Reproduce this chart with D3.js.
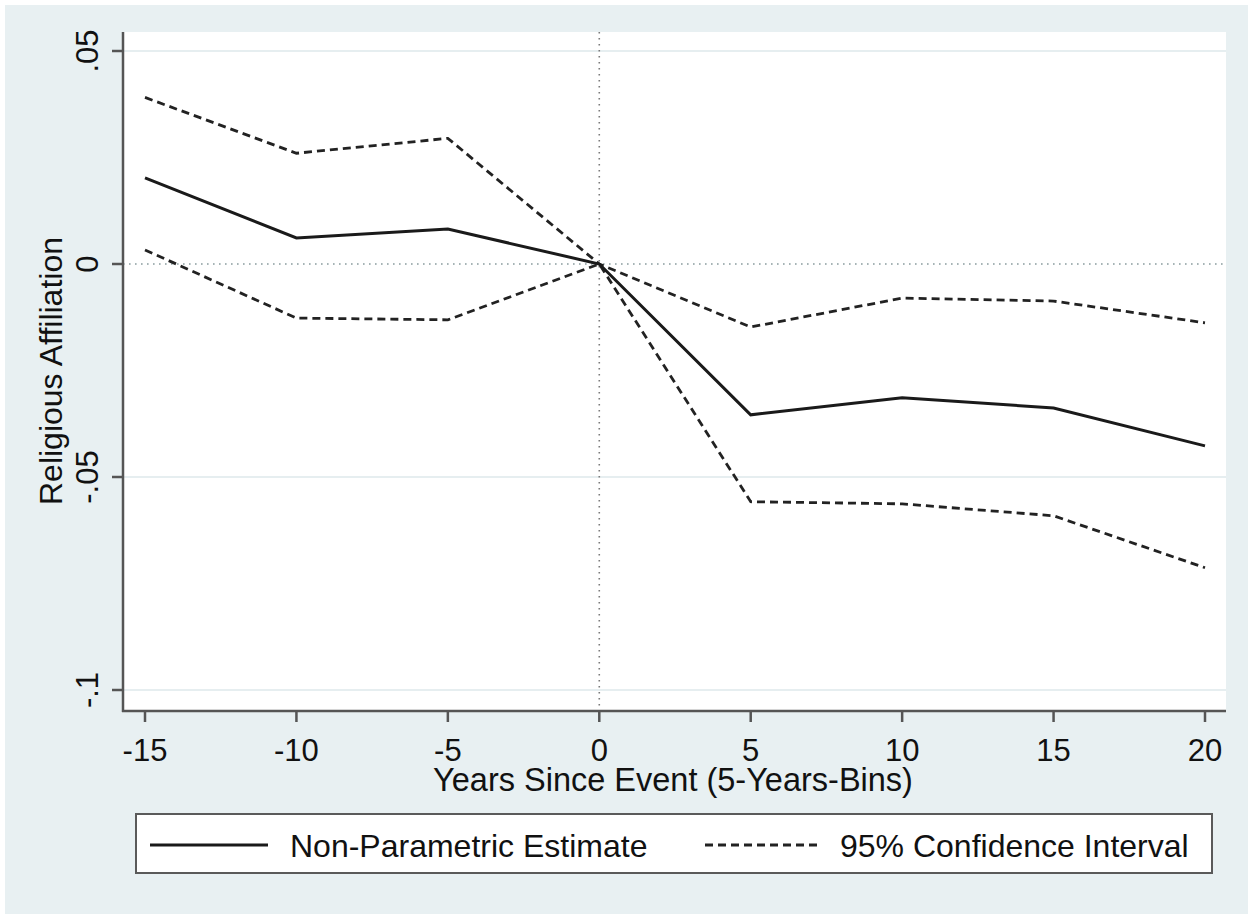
<!DOCTYPE html>
<html>
<head>
<meta charset="utf-8">
<script src="https://cdn.jsdelivr.net/npm/d3@7"></script>
<style>
  body { margin: 0; background: #fff; }
  svg { display: block; font-family: "Liberation Sans", Arial, sans-serif; }
</style>
</head>
<body>
<div id="chart"></div>
<script>
// data
const years = [-15, -10, -5, 0, 5, 10, 15, 20];
const estimate = [0.0202, 0.0061, 0.0082, 0, -0.0354, -0.0314, -0.0338, -0.0427];
const upper = [0.0391, 0.0260, 0.0295, 0, -0.0148, -0.0080, -0.0087, -0.0138];
const lower = [0.0033, -0.0127, -0.0131, 0, -0.0558, -0.0563, -0.0591, -0.0713];
const yTicks = [0.05, 0, -0.05, -0.1];
const yTickLabels = [".05", "0", "-.05", "-.1"];
const xTicks = [-15, -10, -5, 0, 5, 10, 15, 20];

const W = 1248, H = 914;
const bg = "#e8f0f2";
const plot = { left: 123, right: 1226, top: 32, bottom: 711 };

const svg = d3.select("#chart").append("svg")
  .attr("width", W).attr("height", H);

// outer stata-ish background
svg.append("rect").attr("x", 5).attr("y", 5)
  .attr("width", W - 5).attr("height", H - 5).attr("fill", bg);

svg.append("rect")
  .attr("x", plot.left).attr("y", plot.top)
  .attr("width", plot.right - plot.left).attr("height", plot.bottom - plot.top)
  .attr("fill", "#fff");

const x = d3.scaleLinear().domain([-15, 20]).range([145, 1205]);
const y = d3.scaleLinear().domain([-0.1, 0.05]).range([690, 51]);

// gridlines
svg.append("g").selectAll("line")
  .data(yTicks.filter(d => d !== 0))
  .join("line")
  .attr("x1", plot.left).attr("x2", plot.right)
  .attr("y1", d => y(d)).attr("y2", d => y(d))
  .attr("stroke", "#e6eef0").attr("stroke-width", 2);

// reference lines at zero
svg.append("line")
  .attr("x1", plot.left).attr("x2", plot.right)
  .attr("y1", y(0)).attr("y2", y(0))
  .attr("stroke", "#8a9c9f").attr("stroke-width", 1.6)
  .attr("stroke-dasharray", "1.6,4.4");
svg.append("line")
  .attr("x1", x(0)).attr("x2", x(0))
  .attr("y1", plot.top).attr("y2", plot.bottom)
  .attr("stroke", "#7a7a7a").attr("stroke-width", 1.6)
  .attr("stroke-dasharray", "1.6,4.4");

// series
const line = d3.line().x((d, i) => x(years[i])).y(d => y(d));

svg.append("path").datum(upper)
  .attr("d", line).attr("fill", "none")
  .attr("stroke", "#222").attr("stroke-width", 2.8)
  .attr("stroke-dasharray", "8,5");
svg.append("path").datum(lower)
  .attr("d", line).attr("fill", "none")
  .attr("stroke", "#222").attr("stroke-width", 2.8)
  .attr("stroke-dasharray", "8,5");
svg.append("path").datum(estimate)
  .attr("d", line).attr("fill", "none")
  .attr("stroke", "#1a1a1a").attr("stroke-width", 3);

// axes
const axisColor = "#555";
svg.append("line")
  .attr("x1", plot.left).attr("x2", plot.left)
  .attr("y1", plot.top).attr("y2", plot.bottom + 1)
  .attr("stroke", axisColor).attr("stroke-width", 2.5);
svg.append("line")
  .attr("x1", plot.left - 1).attr("x2", plot.right)
  .attr("y1", plot.bottom).attr("y2", plot.bottom)
  .attr("stroke", axisColor).attr("stroke-width", 2.5);

const yAxis = svg.append("g");
yAxis.selectAll("line")
  .data(yTicks)
  .join("line")
  .attr("x1", plot.left - 11).attr("x2", plot.left)
  .attr("y1", d => y(d)).attr("y2", d => y(d))
  .attr("stroke", axisColor).attr("stroke-width", 2.5);
yAxis.selectAll("text")
  .data(yTicks)
  .join("text")
  .attr("transform", d => `translate(98,${y(d)}) rotate(-90)`)
  .attr("text-anchor", "middle")
  .attr("font-size", 31)
  .attr("fill", "#111")
  .text((d, i) => yTickLabels[i]);

const xAxis = svg.append("g");
xAxis.selectAll("line")
  .data(xTicks)
  .join("line")
  .attr("x1", d => x(d)).attr("x2", d => x(d))
  .attr("y1", plot.bottom).attr("y2", plot.bottom + 11)
  .attr("stroke", axisColor).attr("stroke-width", 2.5);
xAxis.selectAll("text")
  .data(xTicks)
  .join("text")
  .attr("x", d => x(d)).attr("y", 761)
  .attr("text-anchor", "middle")
  .attr("font-size", 31)
  .attr("fill", "#111")
  .text(d => d);

// axis titles
svg.append("text")
  .attr("x", 673).attr("y", 791)
  .attr("text-anchor", "middle")
  .attr("font-size", 32.5).attr("fill", "#111")
  .text("Years Since Event (5-Years-Bins)");
svg.append("text")
  .attr("transform", `translate(62,371) rotate(-90)`)
  .attr("text-anchor", "middle")
  .attr("font-size", 32).attr("fill", "#111")
  .text("Religious Affiliation");

// legend
const legend = svg.append("g");
legend.append("rect")
  .attr("x", 136).attr("y", 814)
  .attr("width", 1076).attr("height", 59)
  .attr("fill", "#fff").attr("stroke", "#5a5a5a").attr("stroke-width", 2);
legend.append("line")
  .attr("x1", 150).attr("x2", 268).attr("y1", 845).attr("y2", 845)
  .attr("stroke", "#1a1a1a").attr("stroke-width", 3);
legend.append("text")
  .attr("x", 290).attr("y", 857)
  .attr("font-size", 32).attr("fill", "#111")
  .text("Non-Parametric Estimate");
legend.append("line")
  .attr("x1", 705).attr("x2", 820).attr("y1", 845).attr("y2", 845)
  .attr("stroke", "#222").attr("stroke-width", 2.8)
  .attr("stroke-dasharray", "8,5");
legend.append("text")
  .attr("x", 840).attr("y", 857)
  .attr("font-size", 32).attr("fill", "#111")
  .text("95% Confidence Interval");
</script>
</body>
</html>
